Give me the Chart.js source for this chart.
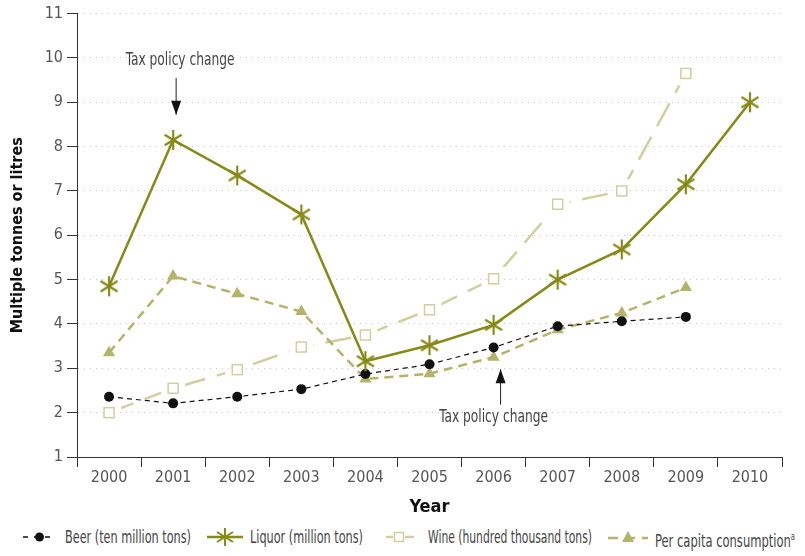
<!DOCTYPE html>
<html>
<head>
<meta charset="utf-8">
<script src="https://cdn.jsdelivr.net/npm/chart.js@4"></script>
<style>
  body { margin: 0; background: #fff; }
  #wrap { width: 805px; height: 556px; position: relative; }
  #chart { display: block; }
  .legend { position: absolute; left: 0; top: 527px; width: 805px; height: 22px;
    font-family: "DejaVu Sans Condensed", "DejaVu Sans", sans-serif; font-size: 17px; color: #444; }
  .legend svg, .legend .txt { position: absolute; top: 0; }
  .legend .txt { white-space: nowrap; transform-origin: left center; line-height: 20px; }
  sup { font-size: 10px; }
</style>
</head>
<body>
<div id="wrap">
  <canvas id="chart" width="805" height="522"></canvas>
  <div class="legend">
    <svg style="left:23px" width="33" height="20"><line x1="0" y1="10" x2="33" y2="10" stroke="#111" stroke-width="1.3" stroke-dasharray="5,6"/><circle cx="16.5" cy="10" r="4.5" fill="#111"/></svg>
    <span class="txt" data-w="126" style="left:65px">Beer (ten million tons)</span>
    <svg style="left:207px" width="36" height="20"><line x1="0" y1="10" x2="36" y2="10" stroke="#878a16" stroke-width="2.5"/><g stroke="#878a16" stroke-width="2"><line x1="18" y1="1" x2="18" y2="19"/><line x1="10" y1="5" x2="26" y2="15"/><line x1="10" y1="15" x2="26" y2="5"/></g></svg>
    <span class="txt" data-w="113" style="left:250px">Liquor (million tons)</span>
    <svg style="left:386px" width="28" height="20"><line x1="0" y1="10" x2="7" y2="10" stroke="#cfcf9f" stroke-width="2.5"/><line x1="19" y1="10" x2="28" y2="10" stroke="#cfcf9f" stroke-width="2.5"/><rect x="8.5" y="5.5" width="9" height="9" fill="#fff" stroke="#cfcf9f" stroke-width="1.5"/></svg>
    <span class="txt" data-w="164" style="left:428px">Wine (hundred thousand tons)</span>
    <svg style="left:608px" width="40" height="20"><line x1="0" y1="11" x2="40" y2="11" stroke="#b3b36a" stroke-width="2.5" stroke-dasharray="10,7"/><polygon points="20,4 26,15 14,15" fill="#b3b36a"/></svg>
    <span class="txt" data-w="140" style="left:655px">Per capita consumption<sup>a</sup></span>
  </div>
</div>
<script>
const years = ['2000', '2001', '2002', '2003', '2004', '2005', '2006', '2007', '2008', '2009', '2010'];
const beer = [2.36, 2.21, 2.36, 2.53, 2.87, 3.09, 3.47, 3.95, 4.06, 4.16, null];
const liquor = [4.85, 8.15, 7.35, 6.47, 3.16, 3.52, 3.98, 5.0, 5.68, 7.15, 9.0];
const wine = [2.0, 2.55, 2.97, 3.48, 3.75, 4.32, 5.02, 6.7, 7.0, 9.65, null];
const perCapita = [3.35, 5.08, 4.68, 4.28, 2.76, 2.88, 3.25, 3.87, 4.25, 4.82, null];
const yTicks = [1, 2, 3, 4, 5, 6, 7, 8, 9, 10, 11];

const FONT = '"DejaVu Sans Condensed", "DejaVu Sans", sans-serif';
const LIQUOR = '#878a16', WINE = '#cfcf9f', CAPITA = '#b3b36a';

// squeeze legend texts to the narrow look of the original
document.querySelectorAll('.legend .txt').forEach(el => {
  const w = el.getBoundingClientRect().width;
  el.style.transform = 'scaleX(' + (+el.dataset.w / w) + ')';
});

// six armed asterisk for the liquor series
function asterisk(color) {
  const c = document.createElement('canvas');
  c.width = 22; c.height = 22;
  const g = c.getContext('2d');
  g.strokeStyle = color; g.lineWidth = 2.2;
  [90, 32, 148].forEach(a => {
    const r = 10, t = a * Math.PI / 180;
    g.beginPath();
    g.moveTo(11 - r * Math.cos(t), 11 - r * Math.sin(t));
    g.lineTo(11 + r * Math.cos(t), 11 + r * Math.sin(t));
    g.stroke();
  });
  return c;
}

// the wine line breaks off around its square markers
const wineGaps = {
  id: 'wineGaps',
  beforeDatasetDraw(chart, args) {
    if (chart.data.datasets[args.index].label !== 'Wine (hundred thousand tons)') return;
    const ctx = chart.ctx, a = chart.chartArea;
    ctx.save();
    ctx.beginPath();
    ctx.rect(a.left, a.top, a.right - a.left, a.bottom - a.top);
    args.meta.data.forEach(p => {
      if (!p.skip) ctx.rect(p.x - 12, p.y - 12, 24, 24);
    });
    ctx.clip('evenodd');
    chart._wineClip = true;
  },
  afterDatasetDraw(chart, args) {
    if (chart.data.datasets[args.index].label !== 'Wine (hundred thousand tons)') return;
    chart.ctx.restore();
    // markers on top, outside the clip
    const ctx = chart.ctx;
    ctx.save();
    ctx.strokeStyle = WINE; ctx.fillStyle = '#fff'; ctx.lineWidth = 1.5;
    args.meta.data.forEach(p => {
      if (p.skip) return;
      ctx.fillRect(p.x - 5, p.y - 5, 10, 10);
      ctx.strokeRect(p.x - 5, p.y - 5, 10, 10);
    });
    ctx.restore();
  }
};

// tax policy notes with arrows
const notes = {
  id: 'notes',
  afterDatasetsDraw(chart) {
    const { ctx, scales: { x, y } } = chart;
    ctx.save();
    ctx.textAlign = 'center';
    ctx.textBaseline = 'middle';
    const text = (s, px, py) => {
      ctx.save();
      ctx.translate(px, py);
      ctx.scale(0.8, 1);
      ctx.font = '17px ' + FONT;
      ctx.fillStyle = '#444';
      ctx.fillText(s, 0, 0);
      ctx.restore();
    };
    const arrow = (px, y0, y1) => {
      ctx.strokeStyle = '#222'; ctx.fillStyle = '#111'; ctx.lineWidth = 1;
      ctx.beginPath(); ctx.moveTo(px, y0); ctx.lineTo(px, y1); ctx.stroke();
      const d = y1 > y0 ? 1 : -1;
      ctx.beginPath();
      ctx.moveTo(px, y1); ctx.lineTo(px - 5, y1 - d * 14); ctx.lineTo(px + 5, y1 - d * 14);
      ctx.closePath(); ctx.fill();
    };
    const a = x.getPixelForValue(1);
    text('Tax policy change', a + 7, y.getPixelForValue(9.95));
    arrow(a + 3, y.getPixelForValue(9.55), y.getPixelForValue(8.72));
    const b = x.getPixelForValue(6);
    text('Tax policy change', b, y.getPixelForValue(1.9));
    arrow(b + 7, y.getPixelForValue(2.18), y.getPixelForValue(2.98));
    ctx.restore();
  }
};

new Chart(document.getElementById('chart'), {
  type: 'line',
  data: {
    labels: years,
    datasets: [
      { label: 'Liquor (million tons)', data: liquor, borderColor: LIQUOR, borderWidth: 2.5, order: 1,
        pointStyle: asterisk(LIQUOR) },
      { label: 'Beer (ten million tons)', data: beer, borderColor: '#111', borderWidth: 1.2, borderDash: [5, 4], order: 2,
        pointStyle: 'circle', pointRadius: 5, pointBackgroundColor: '#111', pointBorderWidth: 0 },
      { label: 'Per capita consumption', data: perCapita, borderColor: CAPITA, borderWidth: 2.5, borderDash: [9, 6], order: 3,
        pointStyle: 'triangle', pointRadius: 7, pointBackgroundColor: CAPITA, pointBorderWidth: 0 },
      { label: 'Wine (hundred thousand tons)', data: wine, borderColor: WINE, borderWidth: 2.5, borderDash: [26, 12], order: 4,
        pointRadius: 0 }
    ]
  },
  options: {
    responsive: false,
    animation: false,
    layout: { padding: { top: 6, right: 23, left: 0, bottom: 0 } },
    plugins: { legend: { display: false }, tooltip: { enabled: false } },
    scales: {
      x: {
        offset: true,
        grid: { drawOnChartArea: false, drawTicks: true, tickLength: 10, offset: true, color: '#333', tickColor: '#333' },
        border: { color: '#333', width: 1 },
        ticks: { font: { family: FONT, size: 16 }, color: '#555', padding: 1, maxRotation: 0 },
        title: { display: true, text: 'Year', font: { family: FONT, size: 18, weight: 'bold' }, color: '#111', padding: { top: 0, bottom: 4 } },
        afterFit: s => { s.height = 65; }
      },
      y: {
        min: 1, max: 11,
        afterBuildTicks: s => { s.ticks = yTicks.map(v => ({ value: v })); },
        grid: { color: '#c8c8c8', tickColor: '#333', tickLength: 10, tickBorderDash: [], lineWidth: 1 },
        border: { color: '#333', width: 1, dash: [1, 5] },
        ticks: { font: { family: FONT, size: 16 }, color: '#555', padding: 4 },
        title: { display: true, text: 'Multiple tonnes or litres', font: { family: FONT, size: 16, weight: 'bold' }, color: '#111', padding: { top: 8, bottom: 0 } },
        afterFit: s => { s.width = 77; }
      }
    }
  },
  plugins: [wineGaps, notes]
});
</script>
</body>
</html>
